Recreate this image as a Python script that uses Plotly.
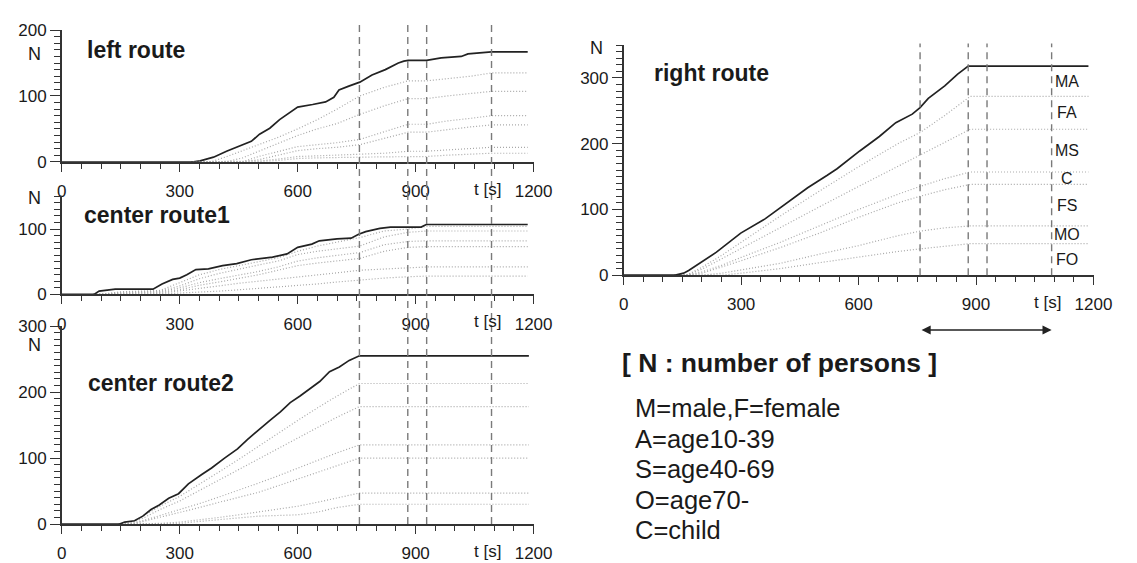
import plotly.graph_objects as go

W, H = 1137, 563
FONT = "Liberation Sans, Arial, sans-serif"
INK = "#1a1a1a"

# ---------------- data ----------------
event_times = [757, 880, 928, 1093]
categories = ["MA", "FA", "MS", "C", "FS", "MO", "FO"]
x_ticks = [0, 300, 600, 900, 1200]

# left route
left_total_t = [0, 335, 352, 386, 419, 453, 482, 503, 529, 554, 571, 600, 638, 671, 692, 705,
                730, 758, 789, 823, 856, 870, 881, 928, 965, 1016, 1033, 1093, 1185]
left_total_n = [0, 0, 1.5, 7, 16, 24.5, 31, 42, 51, 64, 71, 83, 87, 91, 98, 109,
                115, 121, 132, 140, 150, 153, 154, 154, 158, 160, 164, 167, 167]
left_grid_t = [330, 380, 420, 460, 500, 550, 600, 650, 700, 758, 820, 881, 928, 980, 1040, 1093, 1185]
left_dot1 = [0, 0, 8, 17, 25, 37, 50, 64, 80, 100, 113, 123, 123, 126, 130, 135, 135]
left_dot2 = [0, 0, 0, 6, 16, 28, 40, 50, 58, 72, 85, 96, 96, 100, 104, 107, 107]
left_dot3 = [0, 0, 0, 0, 8, 16, 23, 26, 29, 34, 45, 57, 57, 62, 66, 70, 70]
left_dot4 = [0, 0, 0, 0, 3, 10, 17, 20, 22, 26, 36, 45, 45, 49, 53, 56, 56]
left_dot5 = [0, 0, 0, 0, 1, 4, 8, 9, 10, 11, 13, 16, 16, 18, 20, 22, 22]
left_dot6 = [0, 0, 0, 0, 0, 2, 5, 6, 6, 7, 7.5, 8, 8, 10, 12, 13, 13]

# center route1
c1_total_t = [0, 82, 95, 118, 136, 232, 255, 282, 300, 318, 341, 373, 409, 445, 482, 536, 573,
              600, 636, 655, 700, 736, 755, 773, 809, 836, 914, 927, 1185]
c1_total_n = [0, 0, 5, 7, 8, 8, 16, 23, 25, 30, 38, 39, 44, 47, 53, 57, 62,
              72, 77, 82, 85, 86, 92, 96, 101, 103, 103, 107, 107]
c1_grid_t = [80, 100, 150, 200, 250, 300, 350, 400, 450, 500, 550, 600, 650, 700, 758, 820, 881, 928, 1185]
c1_dot1 = [0, 0, 4, 5, 6, 18, 30, 38, 44, 50, 56, 66, 74, 80, 87, 97, 100, 104, 104]
c1_dot2 = [0, 0, 3, 4, 5, 13, 24, 32, 39, 45, 51, 61, 66, 70, 74, 88, 95, 97, 97]
c1_dot3 = [0, 0, 2, 3, 4, 10, 18, 24, 29, 35, 42, 51, 56, 60, 64, 76, 81, 82, 82]
c1_dot4 = [0, 0, 1, 2, 3, 7, 14, 19, 24, 30, 37, 44, 48, 51, 55, 66, 72, 73, 73]
c1_dot5 = [0, 0, 0, 0, 1.5, 5, 9, 13, 17, 20, 23, 27, 30, 33, 37, 39, 40, 42, 42]
c1_dot6 = [0, 0, 0, 0, 0.5, 2, 3, 5, 7, 9, 11, 13, 16, 19, 22, 25, 27, 28, 28]

# center route2
c2_total_t = [0, 147, 160, 185, 206, 227, 248, 272, 297, 322, 356, 381, 414, 447, 472, 497,
              531, 556, 581, 606, 635, 656, 681, 706, 731, 757, 1188]
c2_total_n = [0, 0, 3, 5, 12, 22, 29, 39, 46, 61, 75, 85, 100, 114, 128, 141,
              158, 170, 184, 194, 206, 216, 231, 238, 248, 255, 255]
c2_grid_t = [145, 175, 200, 250, 300, 350, 400, 450, 500, 550, 600, 650, 700, 757, 1188]
c2_dot1 = [0, 2, 10, 27, 42, 60, 79, 98, 118, 138, 157, 176, 194, 213, 213]
c2_dot2 = [0, 1, 7, 22, 35, 51, 67, 83, 98, 114, 130, 146, 162, 178, 178]
c2_dot3 = [0, 0, 4, 13, 21, 31, 41, 51, 62, 73, 85, 97, 108, 120, 120]
c2_dot4 = [0, 0, 3, 10, 17, 25, 33, 40, 48, 58, 68, 78, 88, 100, 100]
c2_dot5 = [0, 0, 0, 1, 3, 6, 10, 14, 18, 22, 27, 33, 40, 47, 47]
c2_dot6 = [0, 0, 0, 0, 1, 4, 7, 10, 12, 13, 14, 18, 25, 30, 30]

# right route
r_total_t = [0, 132, 153, 166, 237, 299, 362, 420, 470, 520, 545, 603, 653, 695, 737, 757,
             778, 820, 853, 880, 1187]
r_total_n = [0, 0, 3, 7, 35, 64, 86, 111, 133, 152, 162, 189, 211, 232, 245, 255,
             269, 288, 306, 318, 318]
r_grid_t = [130, 160, 200, 250, 300, 400, 500, 600, 700, 757, 820, 885, 1187]
r_dot1 = [0, 0, 12, 30, 50, 90, 128, 165, 200, 217, 243, 272, 272]
r_dot2 = [0, 0, 9, 25, 40, 72, 104, 135, 165, 182, 202, 222, 222]
r_dot3 = [0, 0, 5, 15, 27, 50, 75, 100, 123, 135, 147, 157, 157]
r_dot4 = [0, 0, 3, 12, 22, 42, 64, 88, 110, 120, 130, 138, 138]
r_dot5 = [0, 0, 0, 3, 8, 18, 32, 45, 60, 67, 72, 75, 75]
r_dot6 = [0, 0, 0, 0, 3, 10, 19, 28, 36, 40, 44, 48, 48]

legend_title = "[ N : number of persons ]"
legend_lines = ["M=male,F=female", "A=age10-39", "S=age40-69", "O=age70-", "C=child"]

# ---------------- layout helpers ----------------
def py(p):
    return 1 - p / H

def px(p):
    return p / W

panels = [
    dict(title="left route", xa="x", ya="y", xdom=(58, 540), ydom=(159, 22), ymax=200,
         yticks=[0, 100, 200], total=(left_total_t, left_total_n), grid=left_grid_t,
         dots=[left_dot1, left_dot2, left_dot3, left_dot4, left_dot5, left_dot6],
         title_pos=(82, 43), n_pos=(30, 47)),
    dict(title="center route1", xa="x2", ya="y2", xdom=(58, 540), ydom=(297, 195), ymax=150,
         yticks=[0, 100], total=(c1_total_t, c1_total_n), grid=c1_grid_t,
         dots=[c1_dot1, c1_dot2, c1_dot3, c1_dot4, c1_dot5, c1_dot6],
         title_pos=(79, 214), n_pos=(30, 197)),
    dict(title="center route2", xa="x3", ya="y3", xdom=(58, 540), ydom=(536, 330), ymax=300,
         yticks=[0, 100, 200, 300], total=(c2_total_t, c2_total_n), grid=c2_grid_t,
         dots=[c2_dot1, c2_dot2, c2_dot3, c2_dot4, c2_dot5, c2_dot6],
         title_pos=(83, 389), n_pos=(30, 350)),
    dict(title="right route", xa="x4", ya="y4", xdom=(632, 1112), ydom=(277, 37.6), ymax=350,
         yticks=[0, 100, 200, 300], total=(r_total_t, r_total_n), grid=r_grid_t,
         dots=[r_dot1, r_dot2, r_dot3, r_dot4, r_dot5, r_dot6],
         title_pos=(661, 67), n_pos=(604, 41)),
]

fig = go.Figure()
annotations = []
shapes = []
tickfont = dict(family=FONT, size=17, color=INK)

for i, p in enumerate(panels):
    for d in p["dots"]:
        fig.add_trace(go.Scatter(x=p["grid"], y=d, xaxis=p["xa"], yaxis=p["ya"], mode="lines",
                                 line=dict(color="#a8a8a8", width=1.2, dash="1px,2px"),
                                 showlegend=False, hoverinfo="skip"))
    fig.add_trace(go.Scatter(x=p["total"][0], y=p["total"][1], xaxis=p["xa"], yaxis=p["ya"],
                             mode="lines", line=dict(color="#222", width=1.7),
                             showlegend=False, hoverinfo="skip"))
    sfx = "" if i == 0 else str(i + 1)
    fig.update_layout(**{
        "xaxis" + sfx: dict(domain=[px(p["xdom"][0]), px(p["xdom"][1])], range=[0, 1200],
                            tickvals=x_ticks, ticks="outside", ticklen=8, tickwidth=1.2,
                            tickcolor="#333", showline=True, linecolor="#333", linewidth=1.5,
                            showgrid=False, zeroline=False, tickfont=tickfont,
                            ticklabelstandoff=5,
                            anchor="y" + sfx, fixedrange=True,
                            minor=dict(dtick=50, tick0=0, ticks="outside", ticklen=5,
                                       tickcolor="#333", tickwidth=1, showgrid=False)),
        "yaxis" + sfx: dict(domain=[py(p["ydom"][0]), py(p["ydom"][1])], range=[0, p["ymax"]],
                            tickvals=p["yticks"], ticks="outside", ticklen=10, tickwidth=1.2,
                            tickcolor="#333", showline=True, linecolor="#333", linewidth=1.5,
                            showgrid=False, zeroline=False, tickfont=tickfont,
                            anchor="x" + sfx, fixedrange=True,
                            minor=dict(dtick=10, tick0=0, ticks="outside", ticklen=6,
                                       tickcolor="#333", tickwidth=1, showgrid=False)),
    })
    annotations.append(dict(text="<b>%s</b>" % p["title"], xref="paper", yref="paper",
                            x=px(p["title_pos"][0]), y=py(p["title_pos"][1]),
                            xanchor="left", yanchor="middle", showarrow=False,
                            font=dict(family=FONT, size=23, color=INK)))
    annotations.append(dict(text="N", xref="paper", yref="paper",
                            x=px(p["n_pos"][0]), y=py(p["n_pos"][1]),
                            xanchor="center", yanchor="middle", showarrow=False,
                            font=dict(family=FONT, size=18, color=INK)))
    annotations.append(dict(text="t [s]", xref=p["xa"], yref=p["ya"] + " domain",
                            x=1082, y=0, yshift=-16, xanchor="center", yanchor="top",
                            showarrow=False, font=tickfont))

# dashed event lines
for t in event_times:
    shapes.append(dict(type="line", xref="x", yref="paper", x0=t, x1=t, y0=py(536), y1=py(15),
                       line=dict(color="#7a7a7a", width=1.4, dash="7px,5px")))
    shapes.append(dict(type="line", xref="x4", yref="paper", x0=t, x1=t, y0=py(277), y1=py(36),
                       line=dict(color="#7a7a7a", width=1.4, dash="7px,5px")))

# category labels in the right route (midpoints of the final stacked levels)
final_levels = [r_total_n[-1]] + [d[-1] for d in panels[3]["dots"]] + [0]
for k, cat in enumerate(categories):
    annotations.append(dict(text=cat, xref="x4", yref="y4", x=1132,
                            y=(final_levels[k] + final_levels[k + 1]) / 2,
                            xanchor="center", yanchor="middle", showarrow=False,
                            font=dict(family=FONT, size=16, color=INK)))

# double arrow between first and last event times
annotations.append(dict(text="", xref="x4", yref="paper", x=event_times[-1], y=py(334),
                        axref="x4", ayref="pixel", ax=event_times[0], ay=0,
                        showarrow=True, arrowside="end+start", arrowhead=2, arrowsize=1.3,
                        arrowwidth=1.4, arrowcolor="#222", standoff=0, startstandoff=0))

# legend text
annotations.append(dict(text="<b>%s</b>" % legend_title, xref="paper", yref="paper",
                        x=px(628), y=py(368), xanchor="left", yanchor="middle", showarrow=False,
                        font=dict(family=FONT, size=26.5, color=INK)))
for k, line in enumerate(legend_lines):
    annotations.append(dict(text=line, xref="paper", yref="paper",
                            x=px(642), y=py(415.5 + 31.7 * k), xanchor="left", yanchor="middle",
                            showarrow=False, font=dict(family=FONT, size=25.5, color=INK)))

fig.update_layout(width=W, height=H, margin=dict(l=0, r=0, t=0, b=0),
                  paper_bgcolor="white", plot_bgcolor="white",
                  annotations=annotations, shapes=shapes, showlegend=False)

fig.write_html("out.html", config={"displayModeBar": False},
               post_script="document.body.style.margin='0';document.body.style.overflow='hidden';")
